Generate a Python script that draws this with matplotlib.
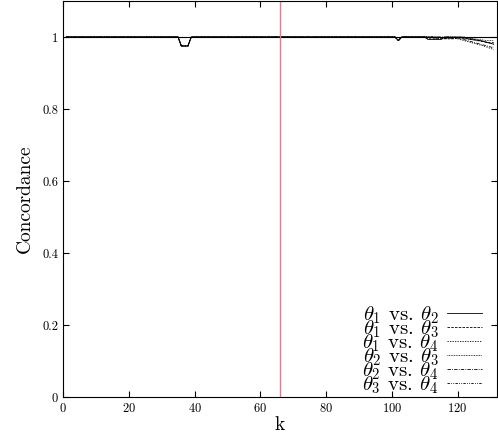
import matplotlib
matplotlib.use("Agg")
import matplotlib.pyplot as plt
from matplotlib.ticker import FuncFormatter

plt.rcParams["font.family"] = "cmr10"
plt.rcParams["mathtext.fontset"] = "cm"
plt.rcParams["axes.formatter.use_mathtext"] = True

# polyline vertices (k, concordance)
k12 = [1, 35, 36, 38, 39, 101, 102, 103, 110, 111, 115, 116, 121, 124, 127, 131]
c12 = [1, 1, 0.975, 0.975, 1, 1, 0.99, 1, 1, 0.993, 0.993, 1, 1, 0.993, 0.99, 0.98]
k13 = [1, 35, 36, 38, 39, 101, 102, 103, 110, 111, 119, 122, 126, 129, 131]
c13 = [1, 1, 0.975, 0.975, 1, 1, 0.99, 1, 1, 0.995, 0.995, 1, 0.99, 0.985, 0.985]
k14 = [1, 35, 36, 38, 39, 101, 102, 103, 112, 114, 117, 120, 124, 128, 131]
c14 = [1, 1, 0.975, 0.975, 1, 1, 0.99, 1, 1, 0.995, 1, 0.995, 0.985, 0.975, 0.965]
k23 = [1, 35, 36, 38, 39, 101, 102, 103, 113, 118, 121, 125, 129, 131]
c23 = [1, 1, 0.975, 0.975, 1, 1, 0.99, 1, 1, 0.997, 1, 0.995, 0.99, 0.99]
k24 = [1, 35, 36, 38, 39, 101, 102, 103, 114, 117, 120, 123, 127, 131]
c24 = [1, 1, 0.975, 0.975, 1, 1, 0.99, 1, 1, 0.995, 0.998, 0.99, 0.98, 0.97]
k34 = [1, 35, 36, 38, 39, 101, 102, 103, 115, 119, 122, 126, 129, 131]
c34 = [1, 1, 0.975, 0.975, 1, 1, 0.99, 1, 1, 1, 0.995, 0.992, 0.985, 0.98]

labels = [r"$\theta_1$ vs. $\theta_2$", r"$\theta_1$ vs. $\theta_3$",
          r"$\theta_1$ vs. $\theta_4$", r"$\theta_2$ vs. $\theta_3$",
          r"$\theta_2$ vs. $\theta_4$", r"$\theta_3$ vs. $\theta_4$"]
k_mark = 66
ref_level = 1.0

fig = plt.figure(figsize=(4.98, 4.34), dpi=100)
ax = fig.add_axes([63 / 498, 37 / 434, 434 / 498, 396 / 434])

ax.axhline(ref_level, color="black", lw=0.8)

series = [(k12, c12), (k13, c13), (k14, c14), (k23, c23), (k24, c24), (k34, c34)]
styles = ["-", (0, (3, 1.5)), (0, (1.5, 1.5)), (0, (1, 1)),
          (0, (4, 1.5, 1, 1.5)), (0, (3, 1.5, 1, 1.5, 1, 1.5))]
for (k, c), ls, lab in zip(series, styles, labels):
    ax.plot(k, c, color="black", lw=0.6, ls=ls, label=lab)

ax.axvline(k_mark, color="#e87890", lw=1.0)

ax.set_xlim(0, 132)
ax.set_ylim(0, 1.1)
ax.set_xticks(range(0, 121, 20))
ax.set_yticks([0, 0.2, 0.4, 0.6, 0.8, 1])
ax.yaxis.set_major_formatter(FuncFormatter(lambda v, p: f"{v:g}"))
ax.tick_params(direction="in", top=True, right=True, labelsize=9, length=4)
ax.set_xlabel("k", fontsize=14, labelpad=1)
ax.set_ylabel("Concordance", fontsize=14, labelpad=6)

leg = ax.legend(loc="lower right", bbox_to_anchor=(0.985, -0.018),
                frameon=False, markerfirst=False,
                fontsize=15, labelspacing=-0.36, handlelength=1.7,
                handletextpad=0.4, borderaxespad=0.0)

fig.savefig("out.png", dpi=100)
